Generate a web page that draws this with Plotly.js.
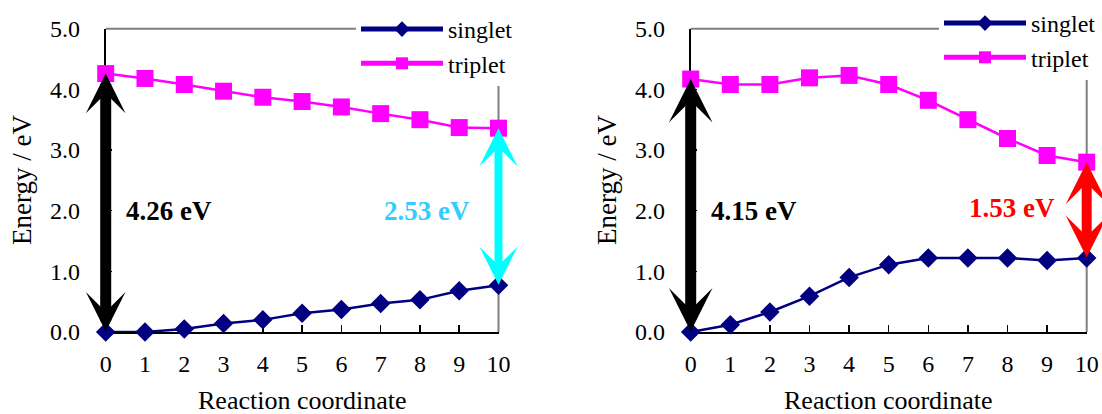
<!DOCTYPE html>
<html><head><meta charset="utf-8">
<script src="https://cdn.plot.ly/plotly-3.0.1.min.js"></script>
<style>html,body{margin:0;padding:0;background:#fff}#chart{width:1102px;height:414px}</style>
</head><body><div id="chart"></div>
<script>
// ---- data ----
const coord = [0, 1, 2, 3, 4, 5, 6, 7, 8, 9, 10];
const seriesNames = ['singlet', 'triplet'];
const leftSinglet  = [0.00, 0.00, 0.05, 0.14, 0.20, 0.31, 0.37, 0.47, 0.53, 0.68, 0.77];
const leftTriplet  = [4.26, 4.18, 4.08, 3.97, 3.87, 3.80, 3.71, 3.60, 3.50, 3.37, 3.36];
const rightSinglet = [0.00, 0.12, 0.33, 0.59, 0.90, 1.11, 1.22, 1.22, 1.22, 1.18, 1.22];
const rightTriplet = [4.17, 4.08, 4.08, 4.19, 4.23, 4.08, 3.82, 3.50, 3.19, 2.91, 2.80];
const gapLabelsLeft  = ['4.26 eV', '2.53 eV'];
const gapLabelsRight = ['4.15 eV', '1.53 eV'];
const yTickVals = [0, 1, 2, 3, 4, 5];
const yTickText = ['0.0', '1.0', '2.0', '3.0', '4.0', '5.0'];
const xTitle = 'Reaction coordinate';
const yTitle = 'Energy / eV';

// ---- style ----
const FONT = 'Liberation Serif';
const NAVY = '#000080', MAG = '#FF00FF';
const W = 1102, H = 414;

function mkTraces(s, t, xa, ya, lg) {
  return [
    {x: coord, y: s, name: seriesNames[0], xaxis: xa, yaxis: ya, legend: lg,
     mode: 'lines+markers', cliponaxis: false,
     line: {color: NAVY, width: 2.5}, marker: {symbol: 'diamond', size: 15, color: NAVY}},
    {x: coord, y: t, name: seriesNames[1], xaxis: xa, yaxis: ya, legend: lg,
     mode: 'lines+markers', cliponaxis: false,
     line: {color: MAG, width: 2.5}, marker: {symbol: 'square', size: 17, color: MAG}}
  ];
}
const data = [].concat(
  mkTraces(leftSinglet, leftTriplet, 'x', 'y', 'legend'),
  mkTraces(rightSinglet, rightTriplet, 'x2', 'y2', 'legend2')
);

function xAx(domain, anchor) {
  return {domain: domain, anchor: anchor, range: [0, 10], tickvals: coord, ticks: 'inside', ticklen: 7,
    tickwidth: 1.5, tickcolor: '#000', showline: true, linecolor: '#000', linewidth: 2,
    showgrid: false, zeroline: false, layer: 'below traces', ticklabelstandoff: 9,
    tickfont: {family: FONT, size: 24, color: '#000'}, fixedrange: true};
}
function yAx(anchor) {
  return {domain: [(H - 332) / H, (H - 28.7) / H], anchor: anchor, range: [0, 5], tickvals: yTickVals,
    ticktext: yTickText, ticks: 'inside', ticklen: 6, tickwidth: 1.5, tickcolor: '#000',
    showline: true, linecolor: '#000', linewidth: 2, showgrid: false, zeroline: false,
    layer: 'below traces', ticklabelstandoff: 19,
    tickfont: {family: FONT, size: 24, color: '#000'}, fixedrange: true};
}
function border(xr, yr) {
  return [
    {type: 'line', xref: xr + ' domain', yref: yr + ' domain', x0: 0, x1: 1, y0: 1, y1: 1,
     line: {color: '#808080', width: 2}, layer: 'below'},
    {type: 'line', xref: xr + ' domain', yref: yr + ' domain', x0: 1, x1: 1, y0: 0, y1: 1,
     line: {color: '#808080', width: 2}, layer: 'below'}
  ];
}
function arrow(xr, yr, xv, y0, y1, color, w, sz) {
  return {xref: xr, yref: yr, axref: xr, ayref: yr, x: xv, y: y1, ax: xv, ay: y0, text: '',
    showarrow: true, arrowhead: 3, startarrowhead: 3, arrowside: 'end+start', arrowwidth: w,
    arrowsize: sz, startarrowsize: sz, arrowcolor: color, standoff: 0, startstandoff: 0,
    font: {size: 1}, borderpad: 0};
}
function label(xr, yr, xv, yv, txt, color) {
  return {xref: xr, yref: yr, x: xv, y: yv, text: '<b>' + txt + '</b>', showarrow: false,
    font: {family: FONT, size: 27, color: color}};
}
function titles(xr, yr) {
  return [
    {xref: xr + ' domain', yref: yr + ' domain', x: 0, y: 0.5, xshift: -83, xanchor: 'center',
     yanchor: 'middle', textangle: -90,
     text: yTitle, showarrow: false, font: {family: FONT, size: 27, color: '#000'}},
    {xref: xr + ' domain', yref: yr + ' domain', x: 0.5, y: 0, yshift: -68, yanchor: 'middle',
     xanchor: 'center',
     text: xTitle, showarrow: false, font: {family: FONT, size: 26, color: '#000'}}
  ];
}
function legendCfg(x, yoff) {
  return {x: x, y: 1 - yoff / H, xanchor: 'left', yanchor: 'top', bgcolor: '#fff', borderwidth: 0,
    font: {family: FONT, size: 24, color: '#000'}, itemwidth: 82,
    itemsizing: 'constant', traceorder: 'normal'};
}

const last = coord.length - 1;
const layout = {
  width: W, height: H, margin: {l: 0, r: 0, t: 0, b: 0, autoexpand: false},
  paper_bgcolor: '#fff', plot_bgcolor: '#fff', showlegend: true,
  font: {family: FONT, color: '#000'},
  xaxis: xAx([105.7 / W, 498.5 / W], 'y'),
  yaxis: yAx('x'),
  xaxis2: xAx([690.7 / W, 1086.7 / W], 'y2'),
  yaxis2: yAx('x2'),
  legend: legendCfg(356 / W, 7),
  legend2: legendCfg(939 / W, 1),
  shapes: [].concat(border('x', 'y'), border('x2', 'y2')),
  annotations: [].concat(
    titles('x', 'y'), titles('x2', 'y2'),
    [
      arrow('x', 'y', coord[0], leftSinglet[0], leftTriplet[0], '#000000', 11, 0.6),
      arrow('x', 'y', coord[last], leftSinglet[last], leftTriplet[last], '#00FFFF', 8, 0.8),
      arrow('x2', 'y2', coord[0], rightSinglet[0], rightTriplet[0], '#000000', 11, 0.66),
      arrow('x2', 'y2', coord[last], rightSinglet[last], rightTriplet[last], '#FF0000', 10, 0.7),
      label('x', 'y', 1.6, 2.0, gapLabelsLeft[0], '#000000'),
      label('x', 'y', 8.17, 2.0, gapLabelsLeft[1], '#33CCFF'),
      label('x2', 'y2', 1.6, 2.0, gapLabelsRight[0], '#000000'),
      label('x2', 'y2', 8.12, 2.05, gapLabelsRight[1], '#FF0000')
    ]
  )
};
Plotly.newPlot('chart', data, layout, {displayModeBar: false, staticPlot: true});
</script></body></html>
